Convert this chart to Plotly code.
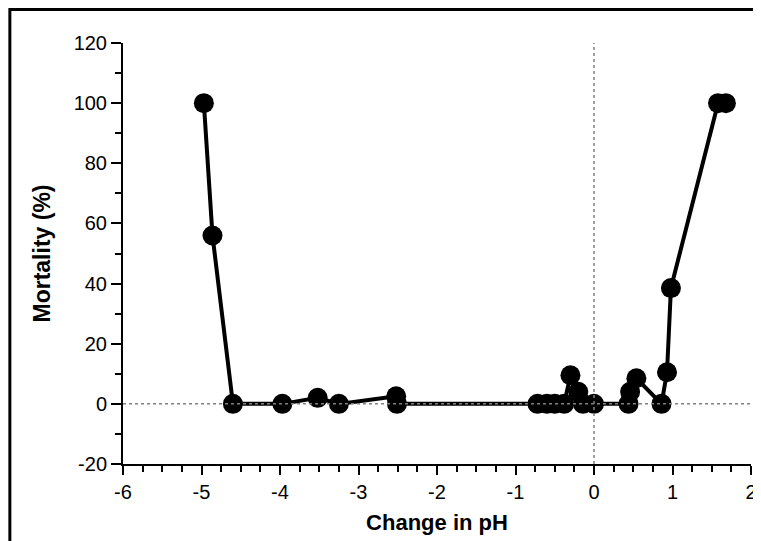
import plotly.graph_objects as go

# Change in pH vs mortality (%)
ph_change = [-4.97, -4.86, -4.6, -3.97, -3.52, -3.25, -2.52, -2.51,
             -0.72, -0.6, -0.5, -0.38, -0.3, -0.2, -0.14, 0.0,
             0.44, 0.46, 0.54, 0.86, 0.93, 0.98, 1.58, 1.68]
mortality = [100, 56, 0, 0, 2, 0, 2.5, 0,
             0, 0, 0, 0, 9.5, 4, 0, 0,
             0, 4, 8.5, 0, 10.5, 38.5, 100, 100]

x_ticks = [-6, -5, -4, -3, -2, -1, 0, 1, 2]
y_ticks = [-20, 0, 20, 40, 60, 80, 100, 120]

W, H = 761, 541
L, R, T, B = 115, 16, 35, 85
pw, ph = W - L - R, H - T - B

def px(xp):
    return (xp - L) / pw

def py(yp):
    return (H - B - yp) / ph

fig = go.Figure()
fig.add_trace(go.Scatter(
    x=ph_change, y=mortality, mode="lines+markers",
    line=dict(color="black", width=4),
    marker=dict(color="black", size=20),
    showlegend=False, hoverinfo="x+y",
))

font_family = "Liberation Sans, Arial, sans-serif"

fig.update_layout(
    width=W, height=H,
    margin=dict(l=L, r=R, t=T, b=B),
    paper_bgcolor="white", plot_bgcolor="white",
    font=dict(family=font_family, size=20, color="black"),
    xaxis=dict(
        range=[-6, 2], tickvals=x_ticks, ticktext=[str(v) for v in x_ticks],
        showgrid=False, zeroline=False, showline=True, linecolor="black", linewidth=2,
        ticks="outside", ticklen=9, tickwidth=2, tickcolor="black",
        minor=dict(dtick=0.25, tick0=-6, ticks="outside", ticklen=6, tickwidth=2, tickcolor="black", showgrid=False),
        title=dict(text="<b>Change in pH</b>", font=dict(size=22), standoff=13),
        tickfont=dict(size=20),
    ),
    yaxis=dict(
        range=[-20, 120], tickvals=y_ticks, ticktext=[str(v) for v in y_ticks],
        showgrid=False, zeroline=False, showline=True, linecolor="black", linewidth=2,
        ticks="outside", ticklen=10, tickwidth=2, tickcolor="black",
        minor=dict(dtick=10, tick0=-20, ticks="outside", ticklen=6, tickwidth=2, tickcolor="black", showgrid=False),
        title=dict(text="<b>Mortality (%)</b>", font=dict(size=23), standoff=17),
        tickfont=dict(size=20),
    ),
    shapes=[
        dict(type="line", xref="x", yref="y", x0=-6, x1=2, y0=0, y1=0,
             line=dict(color="#808080", width=1.5, dash="dot"), layer="above"),
        dict(type="line", xref="x", yref="y", x0=0, x1=0, y0=-20, y1=120,
             line=dict(color="#808080", width=1.5, dash="dot"), layer="above"),
        dict(type="rect", xref="paper", yref="paper",
             x0=px(1.5), x1=px(759.5), y0=py(539.5), y1=py(1.5),
             line=dict(color="black", width=3), fillcolor="rgba(0,0,0,0)", layer="above"),
    ],
)

fig.write_html("out.html")
